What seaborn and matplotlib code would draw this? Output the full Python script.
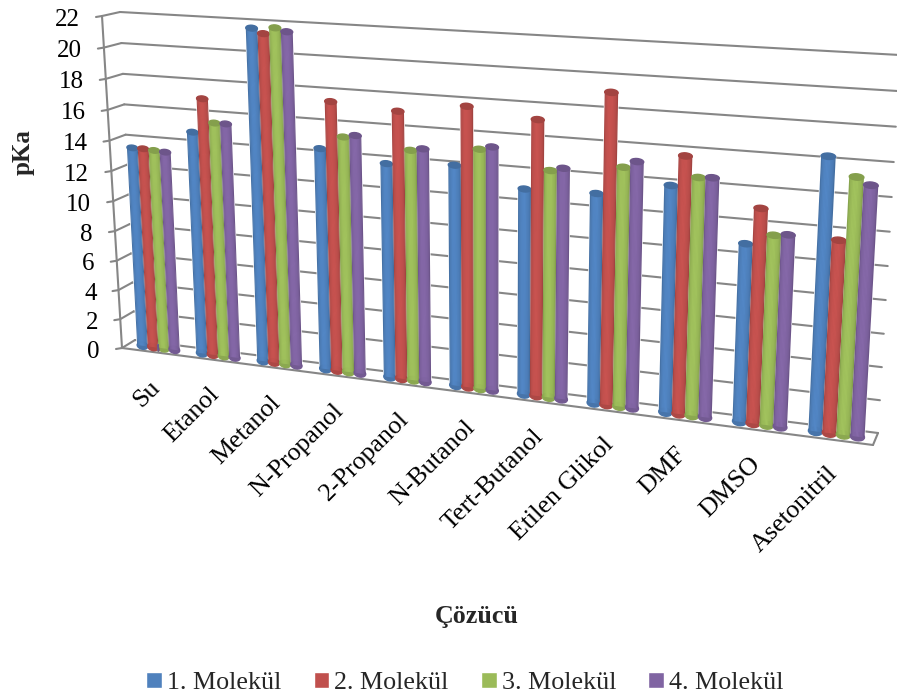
import numpy as np
import pandas as pd
import seaborn as sns
import matplotlib
matplotlib.use("Agg")
import matplotlib.pyplot as plt
import matplotlib.transforms as mtransforms
from matplotlib.patches import Ellipse, Rectangle

categories = ['Su', 'Etanol', 'Metanol', 'N-Propanol', '2-Propanol', 'N-Butanol',
              'Tert-Butanol', 'Etilen Glikol', 'DMF', 'DMSO', 'Asetonitril']
mol1 = [13.4, 14.75, 21.6, 14.35, 13.75, 14.0, 12.9, 13.0, 13.85, 10.8, 16.25]
mol2 = [13.4, 16.95, 21.3, 17.35, 17.05, 17.65, 17.15, 19.05, 15.65, 12.95, 11.5]
mol3 = [13.35, 15.45, 21.7, 15.2, 14.7, 15.1, 14.15, 14.7, 14.45, 11.45, 15.2]
mol4 = [13.3, 15.45, 21.5, 15.35, 14.85, 15.3, 14.35, 15.1, 14.5, 11.55, 14.8]
series_names = ['1. Molekül', '2. Molekül', '3. Molekül', '4. Molekül']
colors = ['#4F81BD', '#C0504D', '#9BBB59', '#8064A2']
y_ticks = list(range(0, 23, 2))

W, H = 897, 700
GRAY = '#868686'
FS = 18
FS_BIG = 18.7


class Perspective(mtransforms.Transform):
    # maps (category, value) onto a tilted plane of the fake 3D box
    input_dims = 2
    output_dims = 2
    is_separable = False
    has_inverse = False

    def __init__(self, corners):
        super().__init__()
        src = [(-0.5, 0), (10.5, 0), (10.5, 22), (-0.5, 22)]
        A, b = [], []
        for (x, y), (px, py) in zip(src, corners):
            py = H - py
            A.append([x, y, 1, 0, 0, 0, -px * x, -px * y])
            A.append([0, 0, 0, x, y, 1, -py * x, -py * y])
            b += [px, py]
        self.m = np.append(np.linalg.solve(np.array(A, float), np.array(b, float)), 1).reshape(3, 3)

    def transform_non_affine(self, values):
        values = np.asarray(values, float)
        pts = np.column_stack([values, np.ones(len(values))]) @ self.m.T
        return pts[:, :2] / pts[:, 2:3]


front = Perspective([(122, 348), (873, 445), (895, 60), (102, 16)])
back = Perspective([(135, 340), (878, 433), (900, 55), (120, 12)])
mid = Perspective([(129, 344), (875.5, 439), (897, 57), (111.5, 14)])
screen = mtransforms.IdentityTransform()

df = pd.DataFrame({'Çözücü': categories * 4,
                   'pKa': mol1 + mol2 + mol3 + mol4,
                   'Molekül': np.repeat(series_names, len(categories))})

sns.set_theme(style='white')
plt.rcParams['font.family'] = ['Liberation Serif', 'DejaVu Serif']

fig = plt.figure(figsize=(W / 100, H / 100), dpi=100)
ax = fig.add_axes([0, 0, 1, 1])
sns.barplot(data=df, x='Çözücü', y='pKa', hue='Molekül', palette=colors,
            width=0.72, gap=0, saturation=1, ax=ax)
ax.set_xlim(-0.5, 10.5)
ax.set_ylim(0, 22)
ax.set_axis_off()

# walls and floor
for v in y_ticks:
    ax.plot([-0.5, 10.5], [v, v], transform=back, color=GRAY, lw=1.5, zorder=1, clip_on=False)
    a = front.transform_non_affine([[-0.5, v]])[0]
    b = back.transform_non_affine([[-0.5, v]])[0]
    ax.plot([a[0] - 6, a[0], b[0]], [a[1] - 1, a[1], b[1]], transform=screen, color=GRAY, lw=1.5,
            zorder=1, clip_on=False)
    ax.text(a[0] - 22, a[1] - 1, str(v), transform=screen, ha='right', va='center_baseline',
            fontsize=FS, color='black')
ax.plot([-0.5, -0.5], [0, 22], transform=front, color=GRAY, lw=1.5, zorder=1, clip_on=False)
ax.plot([-0.5, 10.5], [0, 0], transform=front, color=GRAY, lw=1.5, zorder=1, clip_on=False)
c = front.transform_non_affine([[10.5, 0]])[0]
d = back.transform_non_affine([[10.5, 0]])[0]
ax.plot([c[0], d[0]], [c[1], d[1]], transform=screen, color=GRAY, lw=1.5, zorder=1, clip_on=False)

# shaded cylinders on top of the seaborn bars
shade = [0.88, 0.96, 1.0, 1.03, 1.04, 1.04, 1.03, 1.0, 0.98, 0.94, 0.85]
bars = sorted(ax.patches, key=lambda p: p.get_x())
for n, p in enumerate(bars):
    p.set_transform(mid)
    p.set_clip_on(False)
    p.set_zorder(2)
    x0, w, h = p.get_x(), p.get_width(), p.get_height()
    base = np.array(matplotlib.colors.to_rgb(p.get_facecolor()))
    z = 3 + n * 0.01
    ax.add_patch(Ellipse((x0 + w / 2, 0), w, 0.5, color=base * 0.9, transform=mid, zorder=z, clip_on=False))
    sw = w / len(shade)
    for i, s in enumerate(shade):
        ax.add_patch(Rectangle((x0 + i * sw, 0), sw * 1.05, h, color=np.clip(base * s, 0, 1), lw=0,
                               transform=mid, zorder=z, clip_on=False))
    ax.add_patch(Ellipse((x0 + w / 2, h), w, 0.36, color=base * 0.85, transform=mid, zorder=z + 0.001,
                         clip_on=False))

# category labels
for i, name in enumerate(categories):
    a = mid.transform_non_affine([[i, 0]])[0]
    ax.text(a[0] - 2, a[1] - 36, name, transform=screen, rotation=45, rotation_mode='anchor',
            ha='right', va='center', fontsize=FS_BIG, color='black')

fig.text(23 / W, 1 - 152 / H, 'pKa', rotation=90, ha='center', va='center', fontsize=FS, fontweight='bold')
fig.text(477 / W, 1 - 616 / H, 'Çözücü', ha='center', va='center', fontsize=FS_BIG, fontweight='bold')

handles, labels = ax.get_legend_handles_labels()
ax.legend(handles, labels, loc='center', bbox_to_anchor=(465 / W, 1 - 683 / H), bbox_transform=fig.transFigure,
          ncol=4, frameon=False, fontsize=FS_BIG, handlelength=0.6, handleheight=0.6, handletextpad=0.2,
          columnspacing=1.24, borderpad=0)

fig.savefig('out.png', dpi=100)
